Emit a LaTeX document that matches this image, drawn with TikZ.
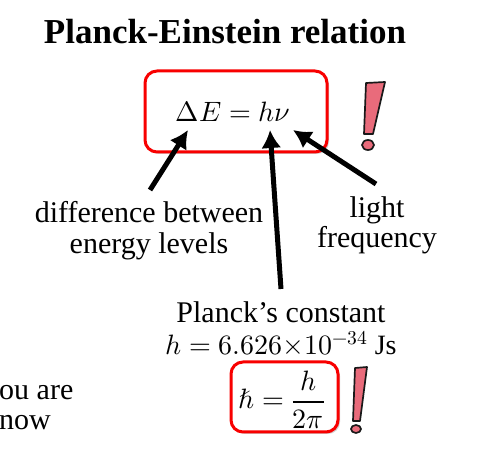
\documentclass[tikz,border=0pt]{standalone}
\usepackage{fontspec}
\usepackage{unicode-math}
\setmainfont{Liberation Serif}
\setmathfont{Latin Modern Math}
\usetikzlibrary{arrows.meta,shadows}
\definecolor{boxred}{HTML}{F80000}
\definecolor{exclpink}{HTML}{E96B7B}
\begin{document}
\begin{tikzpicture}[x=1pt,y=-1pt,
  body/.style={font=\fontsize{30}{32}\selectfont, inner sep=0pt, anchor=base},
  eqbox/.style={draw=boxred, line width=3pt, rounded corners=12pt, fill=white,
    drop shadow={shadow xshift=2pt, shadow yshift=-2pt, fill=black!30, opacity=.6}},
  ptr/.style={line width=5pt, -{Latex[length=18pt,width=20pt]}},
  excl/.style={fill=exclpink, draw=black!90, line width=1.7pt, line join=round}]
\useasboundingbox (0,0) rectangle (485,454);
% title
\node[font=\bfseries\fontsize{35}{40}\selectfont, anchor=base, inner sep=0pt] (title) at (225,44) {Planck-Einstein relation};
% main box and equation
\node[eqbox, minimum width=182pt, minimum height=81pt] (box1) at (236,111.5) {};
\node[body, font=\fontsize{28}{32}\selectfont] (eq) at (233,122) {$\Delta E = h\nu$};
% exclamation 1
\draw[excl] (366,83) -- (385,82) -- (373,134) -- (364,134) -- cycle;
\draw[excl] (368,145) ellipse [x radius=6, y radius=5];
% labels
\node[body] (diff1) at (149,223) {difference between};
\node[body] (diff2) at (149,254) {energy levels};
\node[body] (light1) at (377,218) {light};
\node[body] (light2) at (377,248) {frequency};
\node[body] (planck1) at (281,323) {Planck’s constant};
\node[body, font=\fontsize{28}{32}\selectfont] (planck2) at (281,355) {$h = 6.626{\times}10^{-34}$ Js};
% pointer coordinates
\coordinate (tip1) at (188,130);
\coordinate (tail1) at (150,190);
\coordinate (tip2) at (270,130);
\coordinate (tail2) at (281,289);
\coordinate (tip3) at (293,130);
\coordinate (tail3) at (376,184);
\draw[ptr] (tail1) -- (tip1);
\draw[ptr] (tail2) -- (tip2);
\draw[ptr] (tail3) -- (tip3);
% hbar box
\node[eqbox, minimum width=107pt, minimum height=70pt] (box2) at (284.5,397) {};
\node[body, font=\fontsize{28}{30}\selectfont] (hbar) at (281.5,409) {$\displaystyle \hbar = \frac{h}{2\pi}$};
% exclamation 2
\draw[excl] (355,368) -- (367,367) -- (360,421) -- (353,421) -- cycle;
\draw[excl] (356,429) ellipse [x radius=5, y radius=4];
% cut-off text at left
\node[body, anchor=base west] (you1) at (-1,400) {ou are};
\node[body, anchor=base west] (you2) at (-1,430) {now};
\end{tikzpicture}
\end{document}
